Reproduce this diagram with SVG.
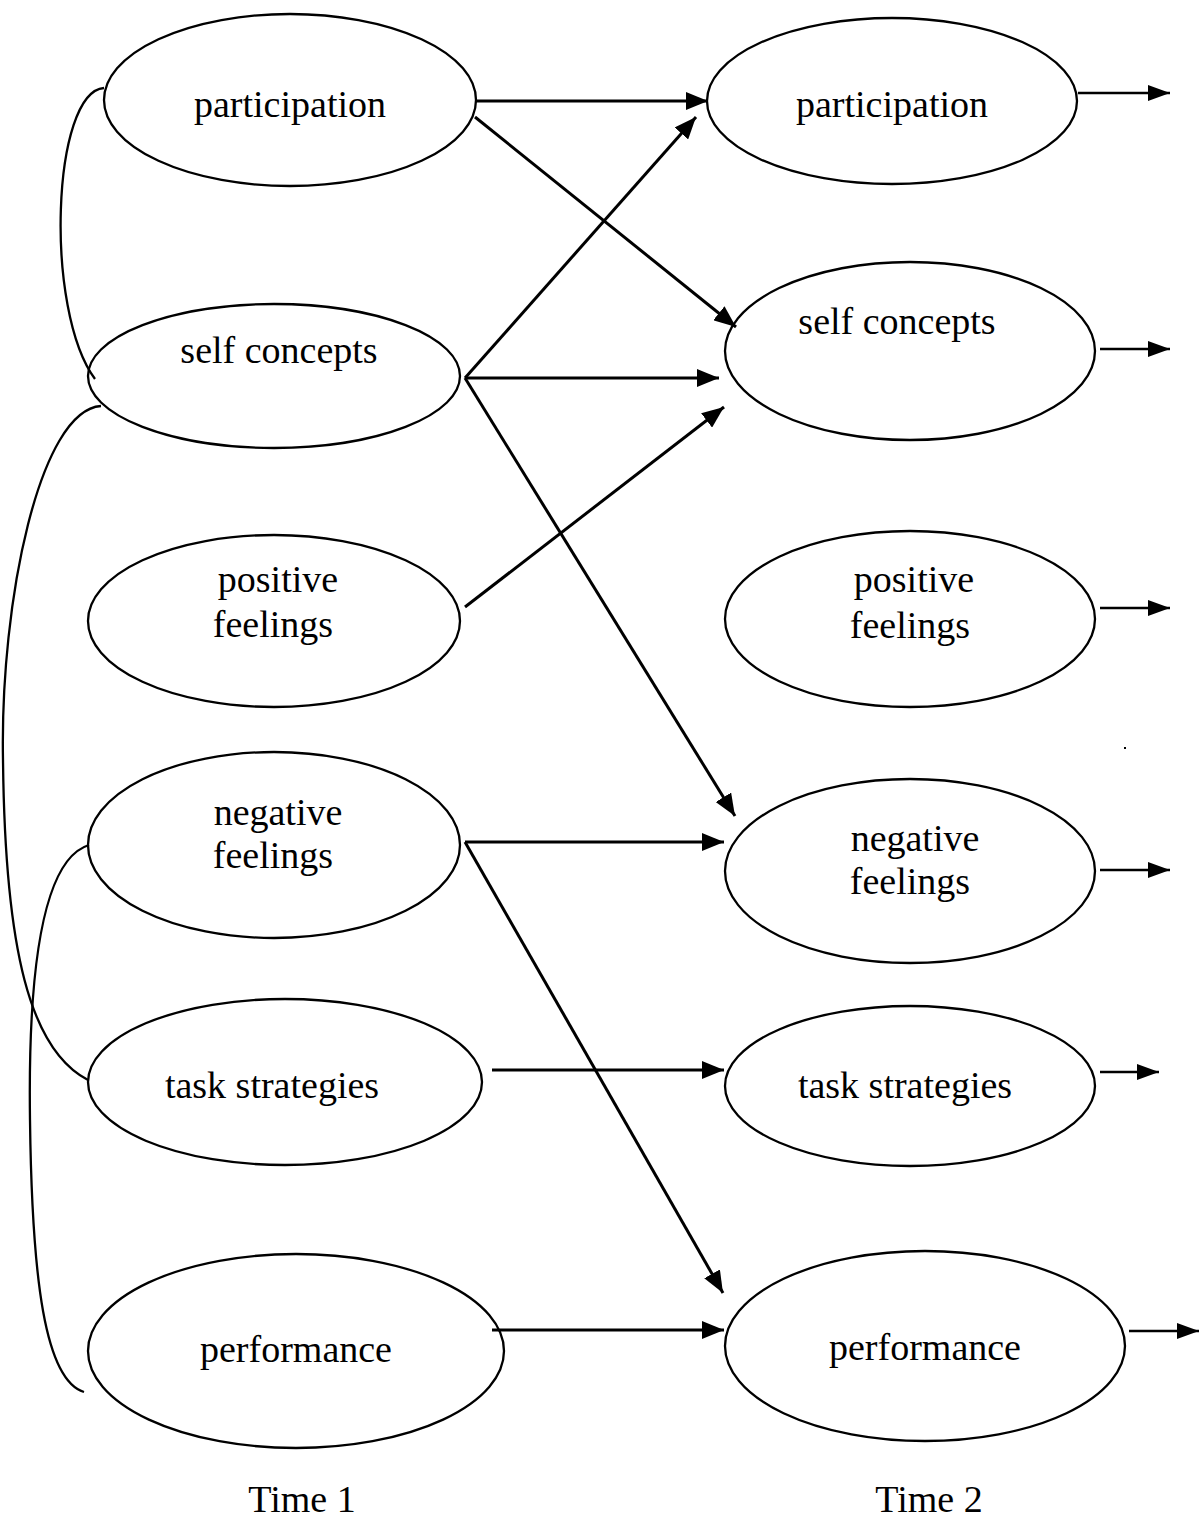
<svg xmlns="http://www.w3.org/2000/svg" width="1200" height="1522" viewBox="0 0 1200 1522">
<style>
.node ellipse{fill:#fff;stroke:#000;stroke-width:2.3}
.lbl{font-family:"Liberation Serif","Times New Roman",serif;font-size:38px;fill:#000;text-anchor:middle}
.arr{stroke:#000;stroke-width:3;fill:none;marker-end:url(#ah)}
.arr2{stroke:#000;stroke-width:2.6;fill:none;marker-end:url(#ah2)}
.cov{stroke:#000;stroke-width:2.3;fill:none}
</style>
<defs>
<marker id="ah" markerUnits="userSpaceOnUse" markerWidth="24" markerHeight="18" refX="22" refY="9" orient="auto"><path d="M0,0 L22,9 L0,18 Z" fill="#000"/></marker>
<marker id="ah2" markerUnits="userSpaceOnUse" markerWidth="24" markerHeight="16" refX="22" refY="8" orient="auto"><path d="M0,0 L22,8 L0,16 Z" fill="#000"/></marker>
</defs>
<rect width="1200" height="1522" fill="#fff"/>
<g id="t1-participation" class="node"><ellipse cx="290" cy="100" rx="186" ry="86"/><text class="lbl" x="290" y="117">participation</text></g>
<g id="t1-self-concepts" class="node"><ellipse cx="274" cy="376" rx="186" ry="72"/><text class="lbl" x="279" y="363">self concepts</text></g>
<g id="t1-positive-feelings" class="node"><ellipse cx="274" cy="621" rx="186" ry="86"/><text class="lbl" x="278" y="592">positive</text><text class="lbl" x="273" y="637">feelings</text></g>
<g id="t1-negative-feelings" class="node"><ellipse cx="274" cy="845" rx="186" ry="93"/><text class="lbl" x="278" y="825">negative</text><text class="lbl" x="273" y="868">feelings</text></g>
<g id="t1-task-strategies" class="node"><ellipse cx="285" cy="1082" rx="197" ry="83"/><text class="lbl" x="272" y="1098">task strategies</text></g>
<g id="t1-performance" class="node"><ellipse cx="296" cy="1351" rx="208" ry="97"/><text class="lbl" x="296" y="1362">performance</text></g>
<g id="t2-participation" class="node"><ellipse cx="892" cy="101" rx="185" ry="83"/><text class="lbl" x="892" y="117">participation</text></g>
<g id="t2-self-concepts" class="node"><ellipse cx="910" cy="351" rx="185" ry="89"/><text class="lbl" x="897" y="334">self concepts</text></g>
<g id="t2-positive-feelings" class="node"><ellipse cx="910" cy="619" rx="185" ry="88"/><text class="lbl" x="914" y="592">positive</text><text class="lbl" x="910" y="638">feelings</text></g>
<g id="t2-negative-feelings" class="node"><ellipse cx="910" cy="871" rx="185" ry="92"/><text class="lbl" x="915" y="851">negative</text><text class="lbl" x="910" y="894">feelings</text></g>
<g id="t2-task-strategies" class="node"><ellipse cx="910" cy="1086" rx="185" ry="80"/><text class="lbl" x="905" y="1098">task strategies</text></g>
<g id="t2-performance" class="node"><ellipse cx="925" cy="1346" rx="200" ry="95"/><text class="lbl" x="925" y="1360">performance</text></g>
<g id="connectors">
<path class="cov" d="M104,88 C52,92 44,310 95,379"/>
<path class="cov" d="M101,406 C40,410 0,600 3,760 C5,950 30,1050 88,1080"/>
<path class="cov" d="M89,845 C40,860 28,980 30,1120 C32,1280 45,1380 84,1392"/>
<line class="arr" x1="476" y1="101" x2="708" y2="101"/>
<line class="arr" x1="475" y1="117" x2="736" y2="327"/>
<line class="arr" x1="465" y1="378" x2="696" y2="117"/>
<line class="arr" x1="465" y1="378" x2="719" y2="378"/>
<line class="arr" x1="465" y1="378" x2="735" y2="816"/>
<line class="arr" x1="465" y1="607" x2="724" y2="407"/>
<line class="arr" x1="465" y1="842" x2="724" y2="842"/>
<line class="arr" x1="465" y1="842" x2="723" y2="1293"/>
<line class="arr" x1="492" y1="1070" x2="724" y2="1070"/>
<line class="arr" x1="492" y1="1330" x2="724" y2="1330"/>
<line class="arr2" x1="1078" y1="93" x2="1170" y2="93"/>
<line class="arr2" x1="1100" y1="349" x2="1170" y2="349"/>
<line class="arr2" x1="1100" y1="608" x2="1170" y2="608"/>
<line class="arr2" x1="1100" y1="870" x2="1170" y2="870"/>
<line class="arr2" x1="1100" y1="1072" x2="1159" y2="1072"/>
<line class="arr2" x1="1129" y1="1331" x2="1199" y2="1331"/>
</g>
<rect x="1124" y="747" width="2" height="2" fill="#000"/>
<text class="lbl" x="302" y="1512">Time 1</text>
<text class="lbl" x="929" y="1512">Time 2</text>
</svg>
